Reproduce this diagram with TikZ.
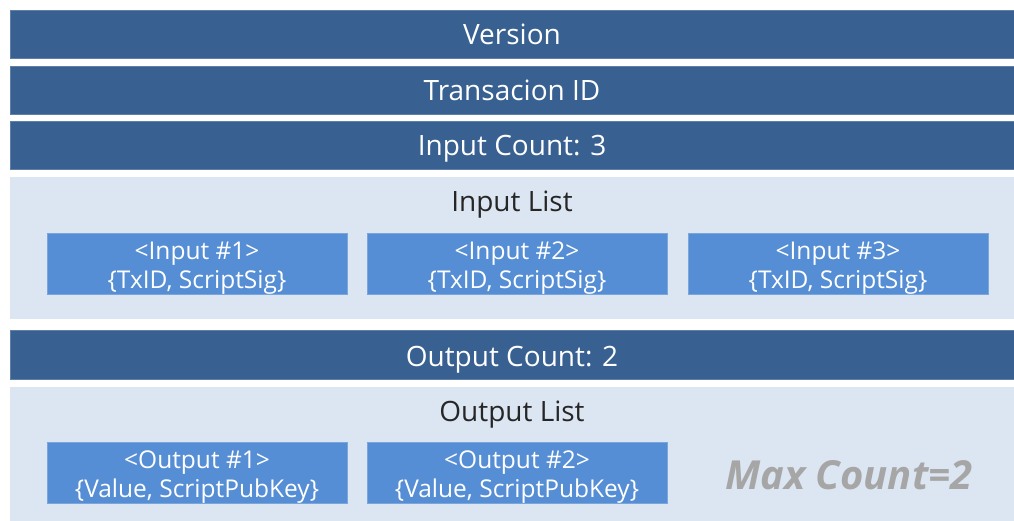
\documentclass[tikz,border=0pt]{standalone}
\usepackage{fontspec}
\setmainfont{Open Sans}
\definecolor{barblue}{HTML}{386090}
\definecolor{baredge}{HTML}{5E7FA8}
\definecolor{panelblue}{HTML}{DCE6F2}
\definecolor{itemblue}{HTML}{558ED5}
\definecolor{itemedge}{HTML}{7AA6DC}
\definecolor{notegray}{HTML}{A6A6A6}
\begin{document}
\begin{tikzpicture}[x=1pt,y=-1pt,
  bar/.style={fill=barblue,draw=baredge,line width=0.8pt},
  panel/.style={fill=panelblue,draw=none},
  item/.style={fill=itemblue,draw=itemedge,line width=0.6pt},
  bartext/.style={text=white,font=\fontsize{28}{32}\selectfont,inner sep=0pt,anchor=base},
  paneltext/.style={text=black!85,font=\fontsize{28}{32}\selectfont,inner sep=0pt,anchor=base},
  itemtext/.style={text=white,align=center,font=\fontsize{24.5}{29}\selectfont,inner sep=0pt},
  note/.style={text=notegray,font=\fontsize{40}{44}\selectfont\bfseries\itshape,inner sep=0pt}]
\useasboundingbox (0,0) rectangle (1014,521);
\fill[white] (0,0) rectangle (1014,521);

% header fields
\draw[bar] (10,10) rectangle (1016,58);
\node[bartext] (version) at (512,45) {Version};
\draw[bar] (10,66) rectangle (1016,114);
\node[bartext] (txid) at (512,101) {Transacion ID};
\draw[bar] (10,121) rectangle (1016,169);
\node[bartext] (incount) at (512,156) {Input Count: 3};

% input list
\fill[panel] (10,177) rectangle (1016,319);
\node[paneltext] (inlist) at (512,212) {Input List};
\foreach \i/\x in {1/47,2/367,3/688}{
  \draw[item] (\x,233) rectangle ++(300,61);
  \node[itemtext] (in\i) at (\x+150,268.5) {<Input \#\i>\\\{TxID, ScriptSig\}};
}

% output count
\draw[bar] (10,330) rectangle (1016,379);
\node[bartext] (outcount) at (512,366) {Output Count: 2};

% output list
\fill[panel] (10,387) rectangle (1016,523);
\node[paneltext] (outlist) at (512,421) {Output List};
\foreach \i/\x in {1/47,2/367}{
  \draw[item] (\x,442) rectangle ++(300,61);
  \node[itemtext] (out\i) at (\x+150,477.5) {<Output \#\i>\\\{Value, ScriptPubKey\}};
}
\node[note] (maxcount) at (849,475) {Max Count=2};
\end{tikzpicture}
\end{document}
